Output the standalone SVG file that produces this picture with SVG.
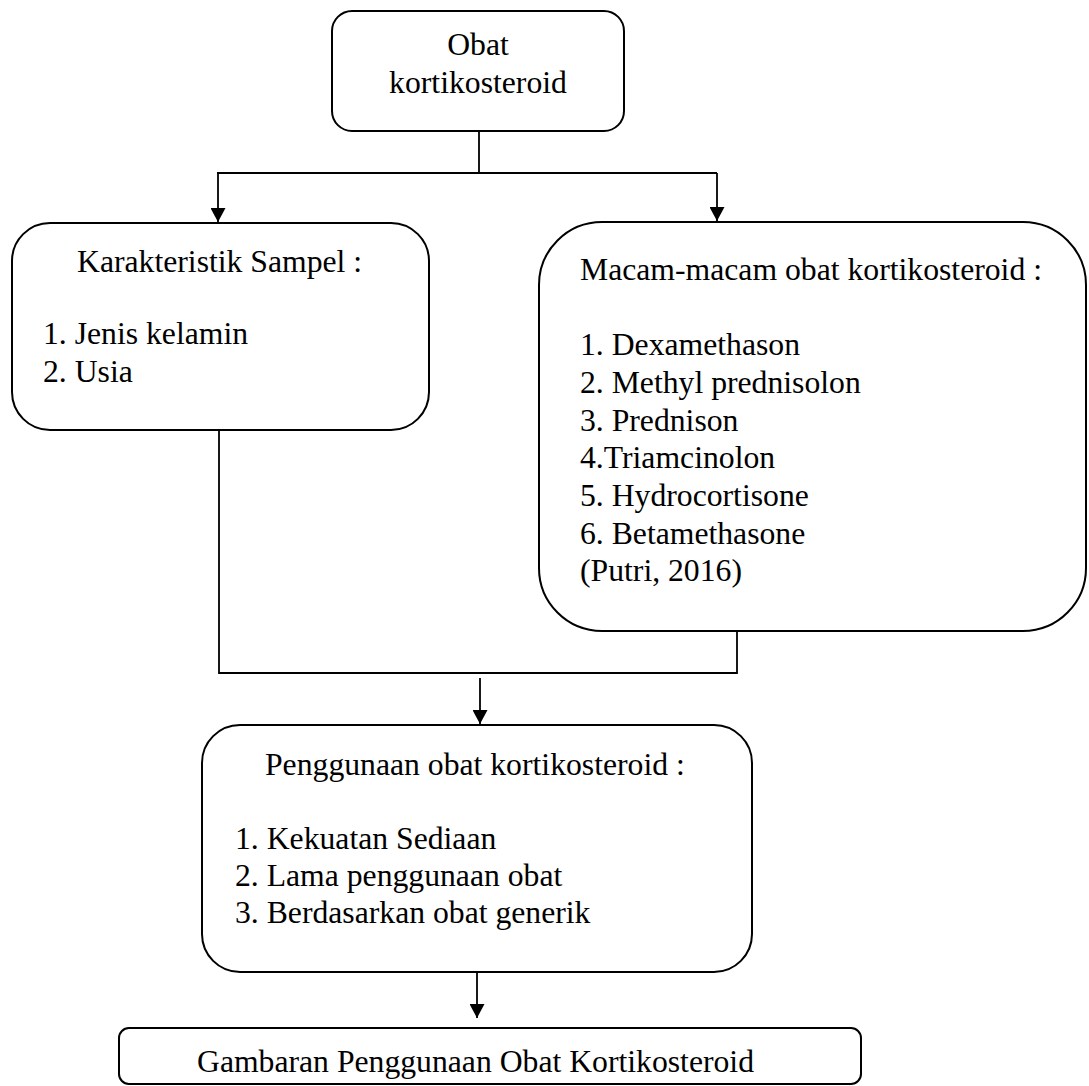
<svg xmlns="http://www.w3.org/2000/svg" width="1089" height="1086" viewBox="0 0 1089 1086">
<style>
.box{fill:#fff;stroke:#000;stroke-width:2}
.t{font-family:"Liberation Serif","Times New Roman",serif;font-size:31.7px;fill:#000}
.c{text-anchor:middle}
.ln{fill:none;stroke:#000;stroke-width:1.8}
</style>
<defs>
<marker id="ah" viewBox="0 0 14 15" refX="14" refY="7.5" markerWidth="14" markerHeight="15" markerUnits="userSpaceOnUse" orient="auto">
<path d="M0,0 L14,7.5 L0,15 Z" fill="#000"/>
</marker>
</defs>
<rect width="1089" height="1086" fill="#fff"/>
<g id="connectors">
<path class="ln" d="M479,131 V173 M217,173 H717"/>
<path class="ln" d="M218,173 V222" marker-end="url(#ah)"/>
<path class="ln" d="M717,173 V221" marker-end="url(#ah)"/>
<path class="ln" d="M219,430 V673 H737 V631"/>
<path class="ln" d="M480,678 V724" marker-end="url(#ah)"/>
<path class="ln" d="M477,972 V1018" marker-end="url(#ah)"/>
</g>
<g id="node-obat">
<rect class="box" x="332" y="11" width="292" height="120" rx="20"/>
<text class="t c" x="478" y="55">Obat</text>
<text class="t c" x="478" y="93">kortikosteroid</text>
</g>
<g id="node-karakteristik">
<rect class="box" x="12" y="223" width="417" height="207" rx="38"/>
<text class="t" x="77" y="272">Karakteristik Sampel :</text>
<text class="t" x="43" y="344">1. Jenis kelamin</text>
<text class="t" x="43" y="382">2. Usia</text>
</g>
<g id="node-macam">
<rect class="box" x="539" y="222" width="547" height="409" rx="63"/>
<text class="t" x="580" y="280">Macam-macam obat kortikosteroid :</text>
<text class="t" x="580" y="355">1. Dexamethason</text>
<text class="t" x="580" y="393">2. Methyl prednisolon</text>
<text class="t" x="580" y="431">3. Prednison</text>
<text class="t" x="580" y="468">4.Triamcinolon</text>
<text class="t" x="580" y="506">5. Hydrocortisone</text>
<text class="t" x="580" y="544">6. Betamethasone</text>
<text class="t" x="580" y="581">(Putri, 2016)</text>
</g>
<g id="node-penggunaan">
<rect class="box" x="202" y="725" width="550" height="247" rx="38"/>
<text class="t" x="265" y="775">Penggunaan obat kortikosteroid :</text>
<text class="t" x="235" y="849">1. Kekuatan Sediaan</text>
<text class="t" x="235" y="886">2. Lama penggunaan obat</text>
<text class="t" x="235" y="923">3. Berdasarkan obat generik</text>
</g>
<g id="node-gambaran">
<rect class="box" x="119" y="1028" width="742" height="56" rx="10"/>
<text class="t" x="197" y="1072">Gambaran Penggunaan Obat Kortikosteroid</text>
</g>
</svg>
